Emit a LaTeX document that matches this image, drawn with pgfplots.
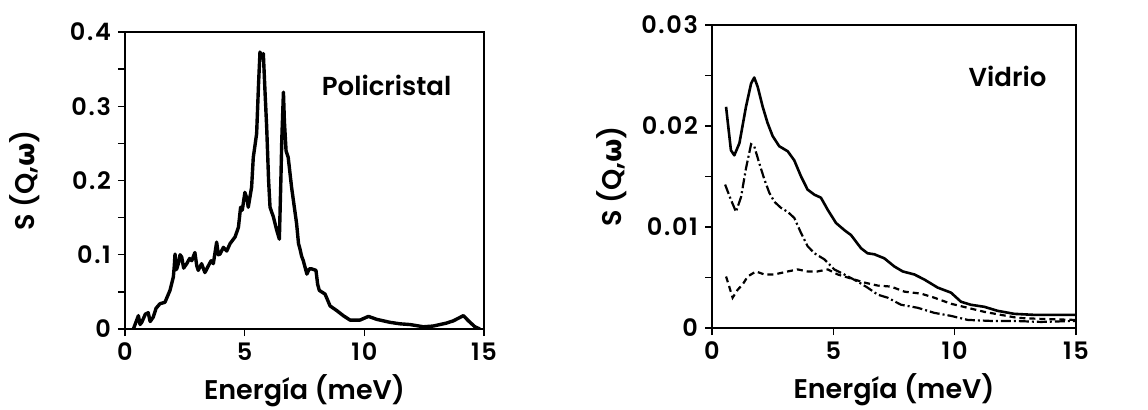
\documentclass[border=0pt]{standalone}
\usepackage{fontspec}
\setmainfont{Poppins}[BoldFont={Poppins SemiBold}]
\newfontfamily\tickfont{Poppins SemiBold}[LetterSpace=7]
\newfontfamily\greekfont{DejaVu Sans}
\usepackage{pgfplots}
\pgfplotsset{compat=1.18}

\begin{document}
\begin{tikzpicture}
\useasboundingbox (0,0) rectangle (574pt,204.5pt);
\pgfplotsset{
  every axis/.append style={
    scale only axis,
    axis line style={line width=0.8pt},
    tick align=outside, tick pos=left,
    major tick length=3.5pt, minor tick length=3.5pt,
    every tick/.style={black, line width=0.7pt},
    xmin=0, xmax=15, xtick={0,5,10,15},
    ymin=0,
    tick label style={font=\tickfont\fontsize{12}{13}\selectfont},
    /pgf/number format/assume math mode=true,
    scaled y ticks=false,
    yticklabel style={/pgf/number format/fixed, /pgf/number format/precision=2},
    label style={font=\bfseries\fontsize{13.5}{15}\selectfont},
    xlabel style={at={([yshift=-35pt]axis description cs:0.5,0)}, anchor=base},
    ylabel style={at={([xshift=-50pt]axis description cs:0,0.5)}, anchor=center},
  }
}

% Policristal
\begin{axis}[
  at={(62.5pt,40pt)}, anchor=south west,
  width=179.5pt, height=148.5pt,
  ymax=0.4, ytick={0,0.1,0.2,0.3,0.4}, minor y tick num=1,
  xlabel={Energía (meV)},
  ylabel={S (Q,{\greekfont ω})},
]
\addplot[black, line width=1.7pt, line join=round] coordinates {
 (0.35,0) (0.56,0.018) (0.63,0.006) (0.70,0.009) (0.85,0.020) (0.97,0.022) (1.05,0.010)
 (1.18,0.016) (1.30,0.028) (1.46,0.034) (1.67,0.036) (1.88,0.052) (2.02,0.070)
 (2.06,0.085) (2.09,0.101) (2.15,0.080) (2.23,0.088) (2.30,0.100) (2.37,0.097)
 (2.45,0.082) (2.58,0.088) (2.70,0.095) (2.79,0.092) (2.92,0.103) (3.00,0.085)
 (3.06,0.079) (3.20,0.088) (3.34,0.076) (3.48,0.085) (3.60,0.092) (3.69,0.088)
 (3.83,0.117) (3.90,0.100) (3.97,0.101) (4.11,0.110) (4.25,0.105) (4.39,0.115)
 (4.60,0.124) (4.74,0.137) (4.83,0.164) (4.90,0.160) (5.01,0.184) (5.10,0.175)
 (5.15,0.164) (5.29,0.191) (5.36,0.231) (5.50,0.263) (5.58,0.330) (5.64,0.373)
 (5.72,0.365) (5.78,0.371) (5.85,0.320) (5.92,0.272) (6.00,0.200) (6.06,0.164)
 (6.20,0.151) (6.34,0.133) (6.45,0.121) (6.52,0.210) (6.55,0.254) (6.62,0.319)
 (6.66,0.280) (6.73,0.240) (6.82,0.231) (6.96,0.191) (7.05,0.170) (7.17,0.142)
 (7.25,0.115) (7.31,0.108) (7.38,0.098) (7.45,0.092) (7.60,0.074) (7.70,0.081)
 (7.80,0.081) (7.98,0.079) (8.05,0.060) (8.12,0.052) (8.36,0.047) (8.57,0.031)
 (8.84,0.025) (9.12,0.018) (9.40,0.012) (9.82,0.012) (10.17,0.017) (10.52,0.013)
 (11.07,0.009) (11.49,0.007) (11.91,0.006) (12.47,0.003) (12.88,0.004) (13.44,0.008)
 (13.72,0.011) (14.14,0.018) (14.35,0.011) (14.62,0.003) (14.83,0)
};
\node[font=\bfseries\fontsize{13}{15}\selectfont] at (axis cs:10.93,0.328) {Policristal};
\end{axis}

% Vidrio
\begin{axis}[
  at={(356pt,40.5pt)}, anchor=south west,
  width=182pt, height=151.5pt,
  ymax=0.03, ytick={0,0.01,0.02,0.03}, minor y tick num=1,
  xlabel={Energía (meV)},
  ylabel={S (Q,{\greekfont ω})},
]
\addplot[black, line width=1.3pt, line join=round] coordinates {
 (0.58,0.0219) (0.78,0.0176) (0.92,0.0171) (1.13,0.0183) (1.40,0.0219) (1.61,0.0242)
 (1.74,0.0248) (1.88,0.0239) (2.09,0.0219) (2.29,0.0203) (2.50,0.0190) (2.77,0.0180)
 (3.12,0.0175) (3.39,0.0166) (3.67,0.0150) (3.94,0.0137) (4.22,0.0132) (4.49,0.0129)
 (4.77,0.0117) (5.11,0.0104) (5.45,0.0097) (5.73,0.0092) (6.14,0.0079) (6.41,0.0074)
 (6.69,0.0073) (7.10,0.0069) (7.51,0.0061) (7.86,0.0056) (8.34,0.0053) (8.75,0.0048)
 (9.30,0.0040) (9.85,0.0035) (10.26,0.0026) (10.67,0.0023) (11.22,0.0021) (11.77,0.0017)
 (12.46,0.0014) (13.28,0.0013) (14.95,0.0013)
};
\addplot[black, line width=1.1pt, dash pattern=on 5pt off 1.5pt on 1pt off 1.5pt] coordinates {
 (0.54,0.0142) (0.78,0.0127) (0.99,0.0115) (1.20,0.0130) (1.40,0.0158) (1.61,0.0182)
 (1.74,0.0180) (1.95,0.0163) (2.16,0.0147) (2.36,0.0134) (2.57,0.0125) (2.84,0.0119)
 (3.12,0.0115) (3.39,0.0109) (3.67,0.0094) (3.94,0.0081) (4.22,0.0074) (4.63,0.0068)
 (5.04,0.0058) (5.45,0.0053) (6.00,0.0046) (6.41,0.0040) (6.83,0.0033) (7.24,0.0030)
 (7.79,0.0023) (8.48,0.0020) (9.16,0.0015) (9.85,0.0012) (10.54,0.0008) (11.50,0.0007)
 (12.46,0.0007) (13.56,0.0006) (14.95,0.0007)
};
\addplot[black, line width=1.1pt, dash pattern=on 3pt off 2pt] coordinates {
 (0.58,0.0051) (0.71,0.0041) (0.85,0.0030) (1.06,0.0038) (1.26,0.0043) (1.47,0.0051)
 (1.81,0.0056) (2.16,0.0053) (2.57,0.0053) (3.12,0.0056) (3.53,0.0058) (3.94,0.0056)
 (4.35,0.0056) (4.77,0.0058) (5.18,0.0053) (5.73,0.0049) (6.28,0.0045) (6.83,0.0042)
 (7.38,0.0041) (7.93,0.0036) (8.62,0.0034) (9.16,0.0030) (9.85,0.0024) (10.54,0.0020)
 (11.22,0.0016) (11.91,0.0013) (12.60,0.0010) (13.56,0.0009) (14.95,0.0008)
};
\node[font=\bfseries\fontsize{13}{15}\selectfont] at (axis cs:12.18,0.0249) {Vidrio};
\end{axis}
\end{tikzpicture}
\end{document}
